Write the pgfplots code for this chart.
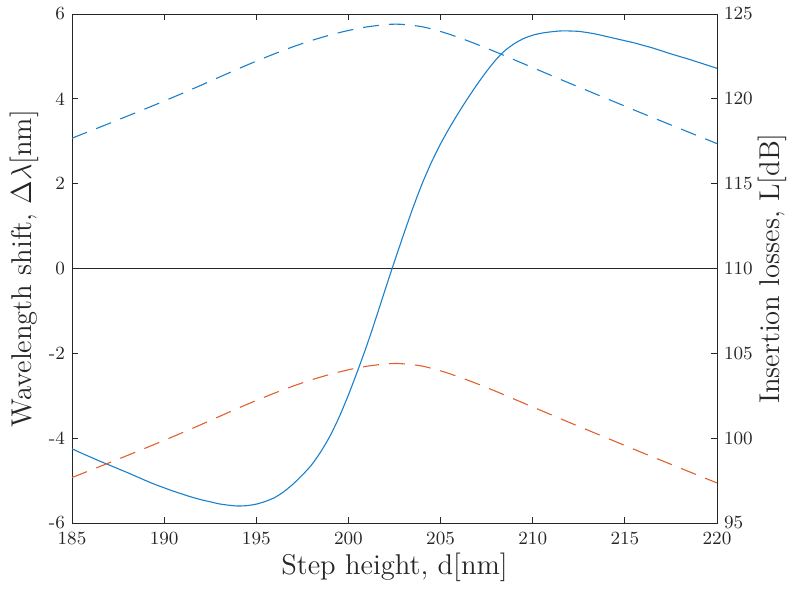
\documentclass[border=0pt]{standalone}
\usepackage{pgfplots}
\pgfplotsset{compat=1.18}
\definecolor{mblue}{RGB}{25,128,205}
\definecolor{morange}{RGB}{226,96,45}
\definecolor{axgray}{RGB}{38,38,38}
\begin{document}
\begin{tikzpicture}
\pgfplotsset{
  every axis/.style={
    scale only axis, width=322.5pt, height=254.5pt,
    xmin=185, xmax=220,
    tick label style={font=\fontsize{9.3}{11}\selectfont, color=axgray},
    label style={font=\fontsize{14.3}{17}\selectfont, color=axgray},
    axis line style={axgray, line width=0.4pt},
    major tick style={axgray, line width=0.4pt},
    major tick length=3pt,
    tick align=inside,
  }
}
\begin{axis}[
  ymin=-6, ymax=6,
  xtick={185,190,...,220},
  xticklabels={185,190,195,200,205,210,215,220},
  xticklabel style={yshift=-0.8pt},
  ytick={-6,-4,...,6},
  yticklabels={-6,-4,-2,0,2,4,6},
  ytick pos=left, xtick pos=both,
  xlabel={Step height, d[nm]},
  ylabel={Wavelength shift, $\Delta\lambda$[nm]},
  xlabel style={at={(axis description cs:0.5,-0.0865)}, anchor=center},
  ylabel style={at={(axis description cs:-0.0744,0.5)}, anchor=center},
]
\coordinate (SW) at (rel axis cs:0,0);
\coordinate (NE) at (rel axis cs:1,1);
\addplot[axgray, line width=0.5pt, forget plot] coordinates {(185,0) (220,0)};
\addplot[mblue, line width=0.55pt, smooth, tension=0.4] coordinates {
(185,-4.25) (185.5,-4.35) (186,-4.445) (186.5,-4.54) (187,-4.63) (187.5,-4.72)
(188,-4.81) (188.5,-4.905) (189,-5.00) (189.5,-5.09) (190,-5.17) (190.5,-5.25)
(191,-5.32) (191.5,-5.39) (192,-5.45) (192.5,-5.50) (193,-5.55) (193.5,-5.58)
(194,-5.60) (194.5,-5.59) (195,-5.555) (195.5,-5.49) (196,-5.40) (196.5,-5.26)
(197,-5.08) (197.5,-4.87) (198,-4.63) (198.5,-4.32) (199,-3.95) (199.5,-3.50)
(200,-2.98) (200.5,-2.41) (201,-1.81) (201.5,-1.16) (202,-0.49) (202.5,0.17)
(203,0.81) (203.5,1.43) (204,2.00) (204.5,2.50) (205,2.94) (205.5,3.33)
(206,3.69) (206.5,4.03) (207,4.35) (207.5,4.65) (208,4.92) (208.5,5.14)
(209,5.30) (209.5,5.42) (210,5.50) (210.5,5.55) (211,5.58) (211.5,5.60)
(212,5.60) (212.5,5.59) (213,5.56) (213.5,5.52) (214,5.47) (214.5,5.42)
(215,5.37) (215.5,5.32) (216,5.26) (216.5,5.20) (217,5.13) (217.5,5.06)
(218,4.995) (218.5,4.93) (219,4.86) (219.5,4.79) (220,4.72)
};
\end{axis}
\begin{axis}[
  ymin=95, ymax=125,
  axis x line=none,
  axis y line*=right,
  ytick={95,100,...,125},
  yticklabels={95,100,105,110,115,120,125},
  ylabel={Insertion losses, L[dB]},
  ylabel style={at={(axis description cs:1.0853,0.5)}, anchor=center},
]
\addplot[mblue, line width=0.55pt, dash pattern=on 8pt off 5pt, smooth, tension=0.5] coordinates {
(185,117.68) (186,118.11) (187,118.54) (188,118.98) (189,119.42) (190,119.87)
(191,120.33) (192,120.80) (193,121.28) (194,121.76) (195,122.22) (196,122.66)
(197,123.07) (198,123.44) (199,123.76) (200,124.03) (201,124.24) (202,124.37)
(202.5,124.40) (203,124.38) (204,124.25) (205,123.97) (206,123.61) (207,123.20)
(208,122.76) (209,122.30) (210,121.84) (211,121.38) (212,120.92) (213,120.47)
(214,120.02) (215,119.57) (216,119.12) (217,118.68) (218,118.24) (219,117.80)
(220,117.36)
};
\addplot[morange, line width=0.55pt, dash pattern=on 8pt off 5pt, smooth, tension=0.5] coordinates {
(185,97.68) (186,98.11) (187,98.54) (188,98.98) (189,99.42) (190,99.87)
(191,100.33) (192,100.80) (193,101.28) (194,101.76) (195,102.22) (196,102.66)
(197,103.07) (198,103.44) (199,103.76) (200,104.03) (201,104.24) (202,104.37)
(202.5,104.40) (203,104.38) (204,104.25) (205,103.97) (206,103.61) (207,103.20)
(208,102.76) (209,102.30) (210,101.84) (211,101.38) (212,100.92) (213,100.47)
(214,100.02) (215,99.57) (216,99.12) (217,98.68) (218,98.24) (219,97.80)
(220,97.36)
};
\end{axis}
\pgfresetboundingbox
\path ([shift={(-36pt,-33pt)}]SW) rectangle ([shift={(36pt,7pt)}]NE);
\end{tikzpicture}
\end{document}
